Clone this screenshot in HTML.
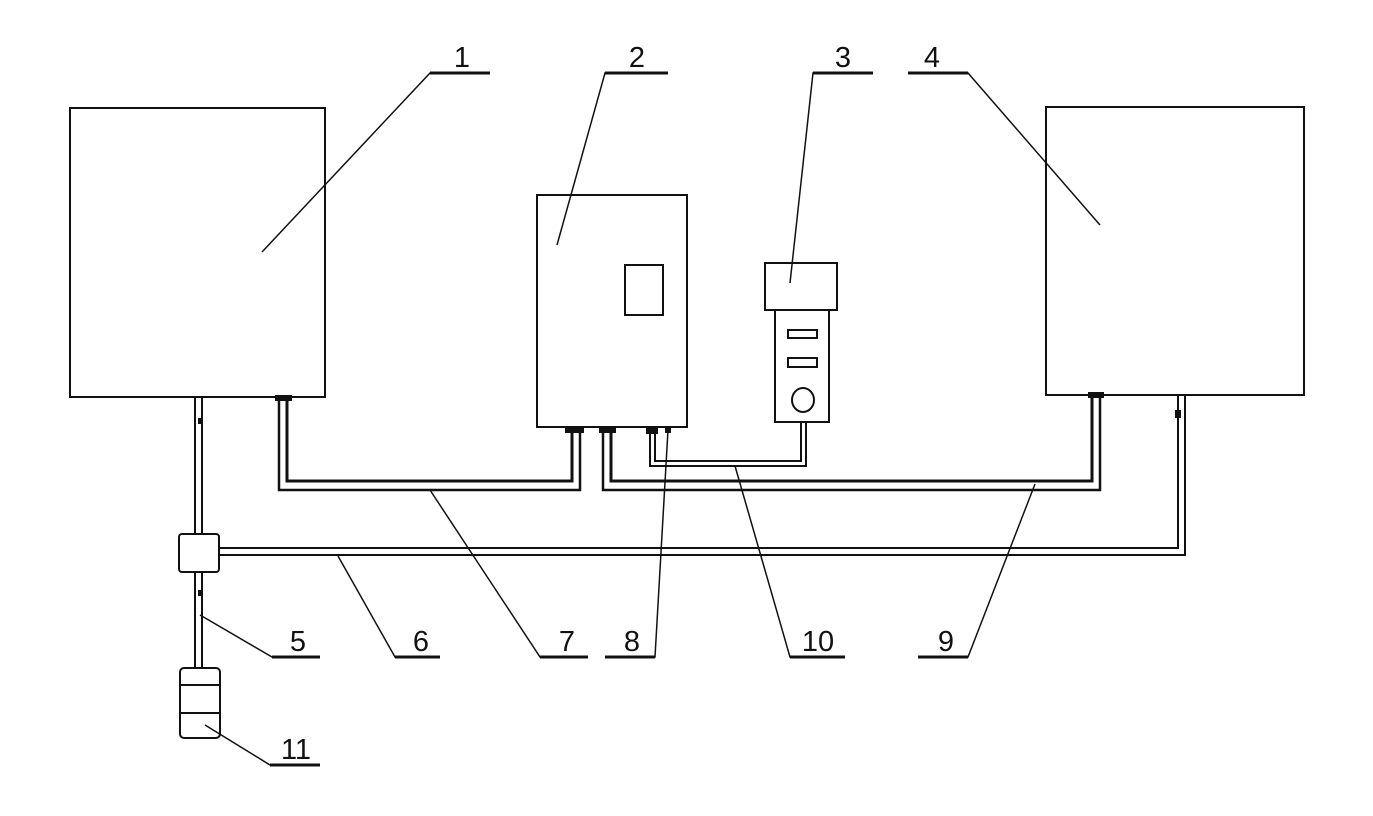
<!DOCTYPE html>
<html><head><meta charset="utf-8"><style>
html,body{margin:0;padding:0;background:#fff;}
svg{display:block;}
text{font-family:"Liberation Sans",sans-serif;font-size:29px;fill:#111;}
</style></head><body>
<svg width="1373" height="816" viewBox="0 0 1373 816" xmlns="http://www.w3.org/2000/svg">
<g fill="none" stroke="#111" stroke-width="2">
<rect x="70" y="108" width="255" height="289"/>
<rect x="537" y="195" width="150" height="232"/>
<rect x="625" y="265" width="38" height="50"/>
<rect x="765" y="263" width="72" height="47"/>
<rect x="775" y="310" width="54" height="112"/>
<rect x="788" y="330" width="29" height="8"/>
<rect x="788" y="358" width="29" height="9"/>
<ellipse cx="803" cy="400" rx="11" ry="12"/>
<rect x="1046" y="107" width="258" height="288"/>
<rect x="179" y="534" width="40" height="38" rx="3"/>
<rect x="180" y="668" width="40" height="70" rx="4"/>
<line x1="180" y1="685" x2="220" y2="685"/>
<line x1="180" y1="713" x2="220" y2="713"/>
</g>
<g fill="none" stroke="#111">
<path d="M195 397 V534 M202 397 V534 M195 572 V668 M202 572 V668" stroke-width="2"/>
<path d="M219 548 H1178 V395 M219 555 H1185 V395" stroke-width="2"/>
<path d="M279 397 V490 H580 V427" stroke-width="2.5"/>
<path d="M287 397 V481 H572 V427" stroke-width="3"/>
<path d="M603 427 V490 H1100 V395" stroke-width="2.5"/>
<path d="M611 427 V481 H1092 V395" stroke-width="3"/>
<path d="M650 427 V466 H806 V422 M655 427 V461 H801 V422" stroke-width="2"/>
<g fill="#111" stroke="none">
<rect x="275" y="395" width="17" height="6"/>
<rect x="565" y="427" width="19" height="6"/>
<rect x="599" y="427" width="17" height="6"/>
<rect x="646" y="427" width="12" height="7"/>
<rect x="665" y="427" width="6" height="6"/>
<rect x="1088" y="392" width="16" height="6"/>
<rect x="1175" y="410" width="6" height="8"/>
<rect x="198" y="418" width="5" height="6"/>
<rect x="198" y="590" width="5" height="6"/>
</g>
<g stroke-width="1.5">
<path d="M490 73 H430 L262 252"/>
<path d="M668 73 H605 L557 245"/>
<path d="M873 73 H813 L790 283"/>
<path d="M908 73 H968 L1100 225"/>
<path d="M320 657 H272 L200 615"/>
<path d="M440 657 H395 L338 556"/>
<path d="M588 657 H540 L430 490"/>
<path d="M605 657 H655 L668 430"/>
<path d="M845 657 H790 L735 466"/>
<path d="M918 657 H968 L1035 484"/>
<path d="M320 765 H270 L205 725"/>
</g>
<g stroke-width="3">
<path d="M430 73 H490 M605 73 H668 M813 73 H873 M908 73 H968 M272 657 H320 M395 657 H440 M540 657 H588 M605 657 H655 M790 657 H845 M918 657 H968 M270 765 H320"/>
</g>
</g>
<text x="462" y="67" text-anchor="middle">1</text>
<text x="637" y="67" text-anchor="middle">2</text>
<text x="843" y="67" text-anchor="middle">3</text>
<text x="932" y="67" text-anchor="middle">4</text>
<text x="298" y="651" text-anchor="middle">5</text>
<text x="421" y="651" text-anchor="middle">6</text>
<text x="567" y="651" text-anchor="middle">7</text>
<text x="632" y="651" text-anchor="middle">8</text>
<text x="818" y="651" text-anchor="middle">10</text>
<text x="946" y="651" text-anchor="middle">9</text>
<text x="296" y="759" text-anchor="middle">11</text>
</svg>
</body></html>
